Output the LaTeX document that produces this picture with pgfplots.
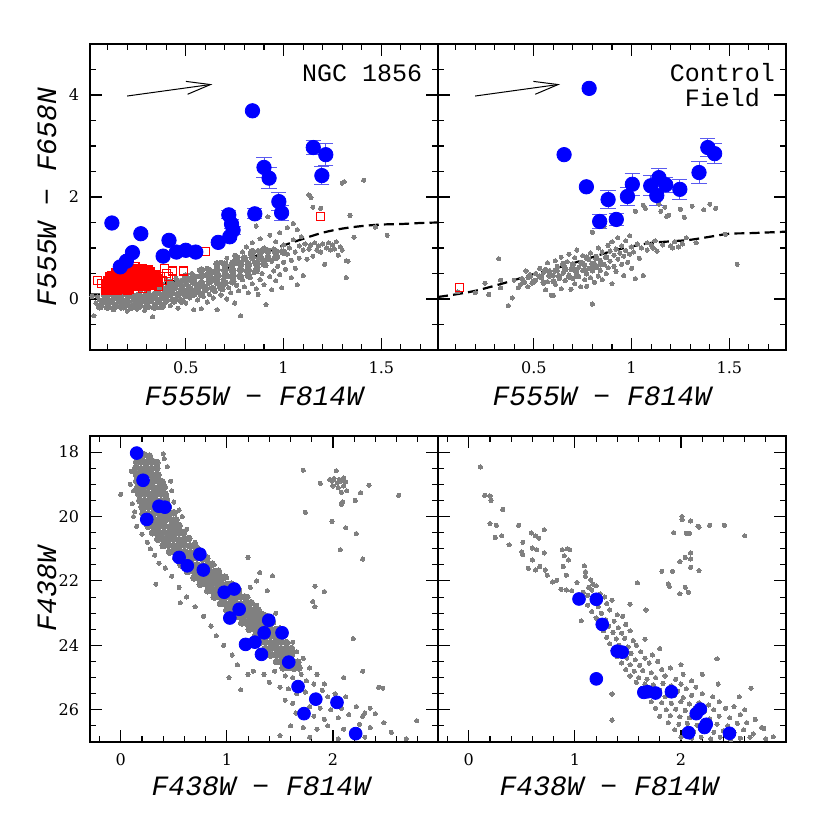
\documentclass[border=0pt]{standalone}
\usepackage{fontspec}
\setmainfont{DejaVu Serif}
\newfontfamily\mono{Liberation Mono}
\usepackage{pgfplots}
\pgfplotsset{compat=1.18}
\usetikzlibrary{arrows.meta}

\definecolor{errblue}{RGB}{90,90,240}
\definecolor{dotgray}{RGB}{128,128,128}

\pgfplotsset{
  panel/.style={
    scale only axis, width=174pt, height=153pt,
    axis line style={line width=0.7pt},
    tick align=inside,
    major tick length=5.8pt, minor tick length=3.2pt,
    every tick/.style={black, line width=0.55pt},
    tick label style={font=\fontsize{8}{8}\selectfont},
    /pgf/number format/assume math mode=true,
    xticklabel shift=2.5pt, yticklabel shift=2pt,
    label style={font=\mono\itshape\fontsize{14}{14}\selectfont},
    xlabel style={anchor=center},
    ylabel style={anchor=center},
  },
  top/.style={panel, xmin=0.01, xmax=1.79, ymin=-1, ymax=5,
    xtick={0.5,1,1.5}, minor xtick={0.1,0.2,...,1.7},
    ytick={0,2,4}, minor ytick={-0.5,0,...,4.5},
    xlabel style={at={(axis description cs:0.471,-0.150)}},
    ylabel style={at={(axis description cs:-0.1236,0.5)}}},
  bot/.style={panel, xmin=-0.29, xmax=2.99, ymin=17.5, ymax=27, y dir=reverse,
    xtick={0,1,2}, minor xtick={-0.2,0,...,2.8},
    ytick={18,20,...,26}, minor ytick={17.5,18,...,27},
    xlabel style={at={(axis description cs:0.491,-0.146)}},
    ylabel style={at={(axis description cs:-0.1236,0.5)}}},
  gdot/.style={dotgray, only marks, mark=*, mark size=1.05pt, mark options={draw=dotgray, fill=dotgray, line width=0pt}},
  gcore/.style={dotgray, only marks, mark=*, mark size=1.7pt, mark options={draw=dotgray, fill=dotgray, line width=0pt}},
  bdot/.style={blue, only marks, mark=*, mark size=3.6pt, mark options={draw=blue, fill=blue}},
  bsmall/.style={blue, only marks, mark=*, mark size=3.2pt, mark options={draw=blue, fill=blue}},
  ebar/.style={error bars/y dir=both, error bars/y explicit,
    error bars/error bar style={errblue, line width=0.5pt},
    error bars/error mark options={rotate=90, mark size=3.8pt, errblue, line width=0.5pt}},
  rsq/.style={red, only marks, mark=square, mark size=2pt, mark options={draw=red, line width=0.6pt}},
  rsqf/.style={red, only marks, mark=square*, mark size=2pt, mark options={draw=red, fill=red, line width=0.6pt}},
  dashc/.style={black, line width=1.1pt, dash pattern=on 5pt off 2.6pt, smooth},
  redv/.style={black, line width=0.5pt, -{Straight Barb[length=12pt,width=6.5pt,line width=0.5pt]}},
}

\begin{document}
\begin{tikzpicture}
\path (0,0) rectangle (415pt,-415pt);

% ---------------- NGC 1856, two-colour diagram ----------------
\begin{axis}[top, at={(45pt,-22pt)}, anchor=north west,
  xlabel={F555W − F814W}, ylabel={F555W − F658N}]
\addplot[gcore] table {
x y
0.06 -0.15
0.10 -0.16
0.14 -0.14
0.18 -0.15
0.22 -0.16
0.26 -0.14
0.30 -0.15
0.34 -0.16
0.38 -0.14
0.08 -0.03
0.12 -0.04
0.16 -0.02
0.20 -0.03
0.24 -0.04
0.28 -0.02
0.32 -0.03
0.36 -0.04
0.40 -0.02
0.44 -0.03
0.48 -0.04
0.10 0.09
0.14 0.08
0.18 0.10
0.22 0.09
0.26 0.08
0.30 0.10
0.34 0.09
0.38 0.08
0.42 0.10
0.46 0.09
0.50 0.08
0.54 0.10
0.58 0.09
0.36 0.21
0.40 0.20
0.44 0.22
0.48 0.21
0.52 0.20
0.56 0.22
0.60 0.21
0.64 0.20
0.68 0.22
0.42 0.33
0.46 0.32
0.50 0.34
0.54 0.33
0.58 0.32
0.62 0.34
0.66 0.33
0.70 0.32
0.74 0.34
0.50 0.45
0.54 0.44
0.58 0.46
0.62 0.45
0.66 0.44
0.70 0.46
0.74 0.45
0.78 0.44
0.82 0.46
0.58 0.57
0.62 0.56
0.66 0.58
0.70 0.57
0.74 0.56
0.78 0.58
0.82 0.57
0.86 0.56
0.66 0.69
0.70 0.68
0.74 0.70
0.78 0.69
0.82 0.68
0.86 0.70
0.90 0.69
0.76 0.81
0.80 0.80
0.84 0.82
0.88 0.81
0.92 0.80
0.96 0.82
0.84 0.93
0.88 0.92
0.92 0.94
0.96 0.93
1.00 0.92
};
\addplot[gdot] table {
x y
0.03 -0.33
0.02 0.05
0.04 -0.08
0.05 0.04
0.06 -0.02
0.07 -0.14
0.08 0.07
0.09 -0.07
0.10 0.02
0.11 -0.17
0.11 0.11
0.12 -0.05
0.13 0.06
0.13 -0.21
0.14 -0.12
0.15 0.00
0.15 0.14
0.16 -0.08
0.17 -0.18
0.17 0.05
0.18 -0.02
0.19 -0.13
0.19 0.10
0.20 -0.24
0.20 0.03
0.21 -0.07
0.22 0.13
0.22 -0.16
0.23 0.01
0.24 -0.10
0.24 0.07
0.25 -0.20
0.26 0.02
0.26 -0.04
0.27 0.15
0.27 -0.14
0.28 -0.01
0.29 0.08
0.29 -0.22
0.30 -0.08
0.30 0.03
0.31 0.12
0.31 -0.15
0.32 -0.03
0.33 0.06
0.33 -0.35
0.34 -0.11
0.35 0.01
0.35 0.16
0.36 -0.06
0.36 0.22
0.37 0.09
0.37 -0.17
0.38 0.30
0.38 0.02
0.39 -0.09
0.39 0.14
0.40 0.38
0.40 -0.02
0.41 0.06
0.41 0.25
0.42 -0.13
0.42 0.18
0.43 0.00
0.43 0.32
0.44 0.10
0.44 -0.06
0.45 0.41
0.45 0.21
0.46 0.04
0.46 -0.18
0.47 0.13
0.47 0.29
0.48 -0.03
0.48 0.36
0.49 0.08
0.49 0.18
0.50 0.45
0.50 -0.08
0.51 0.26
0.51 0.11
0.52 0.02
0.52 0.38
0.53 0.17
0.53 0.50
0.54 -0.21
0.54 0.07
0.55 0.30
0.55 0.21
0.56 -0.02
0.56 0.44
0.57 0.12
0.57 0.56
0.58 0.34
0.58 -0.19
0.59 0.05
0.59 0.25
0.60 0.47
0.60 0.16
0.61 0.60
0.61 -0.06
0.62 0.31
0.62 0.09
0.63 0.40
0.63 0.22
0.64 0.52
0.64 0.02
0.65 0.14
0.65 0.35
0.66 -0.21
0.66 0.64
0.67 0.27
0.67 0.47
0.68 0.08
0.68 0.72
0.69 0.38
0.69 0.18
0.70 0.58
0.70 0.30
0.71 0.00
0.71 0.80
0.72 0.45
0.72 0.22
0.73 0.66
0.73 0.12
0.74 0.36
0.74 0.53
0.75 0.86
0.75 -0.08
0.76 0.27
0.76 0.70
0.77 0.46
0.77 0.16
0.78 0.60
0.78 -0.33
0.79 0.38
0.79 0.92
0.80 0.24
0.80 0.78
0.81 0.55
0.81 1.02
0.82 0.12
0.82 0.66
0.83 0.42
0.83 0.88
0.84 0.30
0.84 1.10
0.85 0.72
0.85 0.52
0.86 0.20
0.86 1.43
0.87 0.95
0.87 0.09
0.87 0.62
0.88 0.38
0.88 1.18
0.89 0.80
0.89 0.50
0.90 0.28
0.90 1.00
0.91 -0.11
0.91 0.66
0.92 1.61
0.92 0.86
0.93 0.44
0.93 1.25
0.94 0.74
0.94 0.18
0.95 0.98
0.95 0.55
0.96 0.36
0.96 1.12
0.97 0.82
0.97 0.64
0.98 1.30
0.98 0.48
0.99 0.94
0.99 0.22
1.00 0.72
1.00 1.06
1.01 0.58
1.02 0.88
1.02 1.40
1.03 1.00
1.04 0.42
1.04 0.76
1.05 1.16
1.05 1.48
1.06 0.92
1.06 0.60
1.07 1.36
1.07 0.28
1.08 1.04
1.08 0.80
1.09 1.22
1.10 0.96
1.10 0.46
1.11 1.08
1.12 0.78
1.13 0.98
1.13 2.04
1.14 1.06
1.14 1.99
1.15 1.80
1.15 0.84
1.16 1.10
1.17 0.96
1.18 1.04
1.19 1.78
1.19 0.92
1.20 1.08
1.21 0.68
1.22 1.00
1.23 1.10
1.24 0.96
1.25 1.06
1.26 0.98
1.27 1.12
1.28 0.86
1.29 1.02
1.30 0.96
1.30 2.27
1.31 2.30
1.32 0.75
1.33 0.74
1.32 0.42
1.34 1.64
1.36 1.21
1.41 2.33
1.47 1.41
1.53 1.25
};
\addplot[rsqf] table {
x y
0.09 0.17
0.12 0.16
0.15 0.17
0.18 0.18
0.21 0.19
0.09 0.23
0.12 0.23
0.15 0.23
0.18 0.24
0.21 0.24
0.24 0.24
0.27 0.25
0.30 0.25
0.33 0.26
0.09 0.30
0.12 0.30
0.15 0.30
0.18 0.30
0.21 0.31
0.24 0.31
0.27 0.31
0.30 0.32
0.33 0.32
0.36 0.33
0.10 0.37
0.13 0.37
0.16 0.37
0.19 0.38
0.22 0.38
0.25 0.38
0.28 0.39
0.31 0.39
0.34 0.40
0.36 0.40
0.11 0.44
0.14 0.44
0.17 0.45
0.20 0.45
0.23 0.45
0.26 0.46
0.29 0.46
0.32 0.47
0.35 0.47
0.14 0.51
0.17 0.51
0.20 0.52
0.23 0.52
0.26 0.53
0.29 0.53
0.32 0.54
0.19 0.58
0.22 0.58
0.25 0.59
0.28 0.59
0.31 0.58
};
\addplot[rsq] table {
x y
0.05 0.36
0.07 0.30
0.12 0.45
0.20 0.16
0.28 0.21
0.36 0.25
0.38 0.36
0.39 0.60
0.40 0.50
0.41 0.44
0.43 0.55
0.49 0.55
0.60 0.93
0.24 0.63
0.17 0.58
1.19 1.62
};
\addplot[dashc] table {
x y
0.01 0.09
0.10 0.09
0.20 0.15
0.30 0.24
0.40 0.32
0.50 0.40
0.60 0.48
0.70 0.59
0.80 0.75
0.90 0.91
1.00 1.05
1.10 1.18
1.20 1.30
1.30 1.38
1.40 1.43
1.50 1.46
1.60 1.47
1.70 1.49
1.79 1.50
};
\addplot[bdot] table {
x y
0.122 1.49
0.270 1.28
0.227 0.91
0.196 0.74
0.165 0.63
0.414 1.15
0.384 0.84
0.452 0.92
0.500 0.955
0.551 0.92
0.666 1.11
0.725 1.22
0.841 3.69
};
\addplot[bdot, ebar] table[x=x, y=y, y error=e] {
x y e
0.720 1.65 0.08
0.734 1.47 0.08
0.742 1.35 0.08
0.853 1.67 0.10
0.900 2.58 0.20
0.926 2.37 0.20
0.976 1.91 0.18
0.990 1.69 0.15
1.152 2.97 0.13
1.216 2.83 0.22
1.196 2.42 0.18
};
\addplot[redv] coordinates {(0.20,3.98) (0.636,4.21)};
\node[font=\mono\fontsize{12.5}{12.5}\selectfont] at (rel axis cs:0.782,0.904) {NGC 1856};
\end{axis}

% ---------------- Control field, two-colour diagram ----------------
\begin{axis}[top, at={(219pt,-22pt)}, anchor=north west,
  yticklabels={}, xlabel={F555W − F814W}]
\addplot[gcore, mark size=1.35pt] table {
x y
0.45 0.33
0.50 0.34
0.55 0.32
0.60 0.35
0.48 0.45
0.53 0.44
0.58 0.46
0.63 0.45
0.68 0.44
0.72 0.46
0.56 0.57
0.61 0.56
0.66 0.58
0.71 0.57
0.76 0.56
0.80 0.58
0.65 0.69
0.70 0.68
0.75 0.70
0.80 0.69
0.84 0.68
0.77 0.81
0.82 0.80
0.87 0.82
};
\addplot[gdot] table {
x y
0.11 0.14
0.20 0.12
0.25 0.31
0.27 0.09
0.32 0.79
0.33 0.37
0.33 0.22
0.37 -0.13
0.39 0.02
0.40 0.37
0.42 0.22
0.43 0.28
0.44 0.40
0.46 0.55
0.47 0.42
0.47 0.24
0.48 0.48
0.49 0.31
0.51 0.50
0.51 0.37
0.53 0.60
0.54 0.43
0.55 0.52
0.56 0.18
0.57 0.71
0.57 0.34
0.58 0.55
0.59 0.07
0.60 0.07
0.60 0.46
0.61 0.75
0.61 0.29
0.62 0.55
0.62 0.64
0.63 0.40
0.64 0.20
0.64 0.82
0.65 0.51
0.66 0.62
0.66 0.36
0.67 0.73
0.68 0.88
0.68 0.47
0.69 0.19
0.69 0.58
0.70 0.69
0.70 0.40
0.71 0.30
0.71 0.81
0.72 0.96
0.72 0.52
0.73 0.62
0.73 0.44
0.74 0.72
0.74 0.24
0.75 0.56
0.75 0.85
0.76 0.38
0.76 0.66
0.77 0.49
0.77 0.25
0.78 0.78
0.78 0.60
0.79 0.42
0.79 0.90
0.80 1.31
0.80 -0.10
0.80 0.55
0.81 0.70
0.81 0.33
0.82 0.84
0.82 0.62
0.83 0.45
0.83 1.00
0.84 0.76
0.84 0.56
0.85 0.92
0.85 0.38
0.86 1.43
0.86 0.68
0.87 0.82
0.87 0.50
0.88 1.05
0.88 0.61
0.89 0.94
0.89 0.74
0.90 0.30
0.90 1.12
0.91 0.86
0.91 0.64
0.92 0.98
0.92 0.54
0.93 0.78
0.93 1.20
0.94 0.90
0.95 0.68
0.95 1.04
0.96 0.84
0.96 0.46
0.97 1.14
0.97 0.95
0.98 0.72
0.99 1.24
0.99 0.88
1.00 1.02
1.00 0.60
1.01 0.92
1.02 1.72
1.02 0.40
1.03 1.08
1.04 0.80
1.05 1.00
1.06 1.84
1.06 0.46
1.07 1.78
1.08 1.10
1.08 0.96
1.10 1.06
1.11 1.00
1.12 1.14
1.13 0.94
1.14 1.86
1.15 1.72
1.16 1.06
1.17 1.80
1.18 1.62
1.19 1.64
1.20 1.04
1.21 1.00
1.22 1.12
1.24 1.02
1.25 1.76
1.26 1.08
1.27 1.60
1.28 1.20
1.31 1.82
1.33 1.10
1.37 1.75
1.40 1.86
1.43 1.78
1.48 1.27
1.54 0.68
};
\addplot[dashc] table {
x y
0.01 0.04
0.10 0.09
0.20 0.16
0.30 0.26
0.40 0.37
0.50 0.49
0.60 0.59
0.70 0.70
0.80 0.82
0.90 0.94
1.00 1.03
1.10 1.10
1.20 1.13
1.30 1.16
1.40 1.22
1.50 1.28
1.60 1.29
1.79 1.32
};
\addplot[rsq] table {
x y
0.12 0.22
};
\addplot[bdot] table {
x y
0.783 4.13
0.655 2.83
0.769 2.20
};
\addplot[bdot, ebar] table[x=x, y=y, y error=e] {
x y e
0.880 1.95 0.18
0.837 1.52 0.13
0.922 1.56 0.12
0.979 2.01 0.18
1.004 2.25 0.22
1.098 2.22 0.20
1.129 2.03 0.20
1.140 2.38 0.17
1.175 2.24 0.15
1.247 2.15 0.19
1.345 2.48 0.21
1.390 2.97 0.17
1.425 2.85 0.20
};
\addplot[redv] coordinates {(0.20,3.98) (0.634,4.21)};
\node[font=\mono\fontsize{12.5}{12.5}\selectfont, align=center] at (rel axis cs:0.817,0.867) {Control\\Field};
\end{axis}

% ---------------- NGC 1856, colour-magnitude diagram ----------------
\begin{axis}[bot, at={(45pt,-218pt)}, anchor=north west,
  xlabel={F438W − F814W}, ylabel={F438W}]
\addplot[gcore] table {
x y
0.17 18.10
0.22 18.08
0.27 18.12
0.15 18.30
0.20 18.28
0.25 18.31
0.30 18.29
0.34 18.32
0.14 18.50
0.19 18.52
0.24 18.49
0.29 18.51
0.34 18.50
0.15 18.70
0.20 18.71
0.25 18.69
0.30 18.72
0.35 18.70
0.15 18.90
0.20 18.88
0.25 18.91
0.30 18.90
0.35 18.89
0.39 18.92
0.16 19.10
0.21 19.11
0.26 19.09
0.31 19.10
0.36 19.12
0.41 19.09
0.17 19.30
0.22 19.29
0.27 19.31
0.32 19.30
0.37 19.28
0.42 19.31
0.18 19.50
0.23 19.52
0.28 19.49
0.33 19.50
0.38 19.51
0.43 19.48
0.20 19.70
0.25 19.69
0.30 19.71
0.35 19.70
0.40 19.72
0.45 19.69
0.21 19.90
0.26 19.91
0.31 19.89
0.36 19.90
0.41 19.92
0.46 19.90
0.50 19.88
0.23 20.10
0.28 20.09
0.33 20.11
0.38 20.10
0.43 20.08
0.48 20.11
0.52 20.10
0.26 20.30
0.31 20.31
0.36 20.29
0.41 20.30
0.46 20.32
0.51 20.30
0.55 20.28
0.30 20.50
0.35 20.49
0.40 20.51
0.45 20.50
0.50 20.52
0.55 20.49
0.59 20.50
0.35 20.70
0.40 20.71
0.45 20.69
0.50 20.70
0.55 20.72
0.60 20.70
0.64 20.68
0.40 20.90
0.45 20.89
0.50 20.91
0.55 20.90
0.60 20.88
0.65 20.91
0.70 20.90
0.46 21.10
0.51 21.11
0.56 21.09
0.61 21.10
0.66 21.12
0.71 21.10
0.75 21.08
0.52 21.30
0.57 21.29
0.62 21.31
0.67 21.30
0.72 21.28
0.77 21.31
0.81 21.30
0.57 21.50
0.62 21.51
0.67 21.49
0.72 21.50
0.77 21.52
0.82 21.50
0.86 21.48
0.63 21.70
0.68 21.69
0.73 21.71
0.78 21.70
0.83 21.68
0.88 21.71
0.92 21.70
0.69 21.90
0.74 21.91
0.79 21.89
0.84 21.90
0.89 21.92
0.94 21.90
0.98 21.88
0.75 22.10
0.80 22.09
0.85 22.11
0.90 22.10
0.95 22.08
1.00 22.11
1.04 22.10
0.82 22.30
0.87 22.31
0.92 22.29
0.97 22.30
1.02 22.32
1.07 22.30
1.11 22.28
0.88 22.50
0.93 22.49
0.98 22.51
1.03 22.50
1.08 22.52
1.13 22.49
1.17 22.50
0.94 22.70
0.99 22.71
1.04 22.69
1.09 22.70
1.14 22.72
1.19 22.70
1.23 22.68
1.00 22.90
1.05 22.89
1.10 22.91
1.15 22.90
1.20 22.88
1.25 22.91
1.29 22.90
1.07 23.10
1.12 23.11
1.17 23.09
1.22 23.10
1.27 23.12
1.32 23.10
1.36 23.08
1.14 23.30
1.19 23.31
1.24 23.29
1.29 23.30
1.34 23.32
1.39 23.30
1.43 23.28
1.21 23.50
1.26 23.49
1.31 23.51
1.36 23.50
1.41 23.48
1.46 23.51
1.50 23.50
1.27 23.70
1.32 23.71
1.37 23.69
1.42 23.70
1.47 23.72
1.52 23.70
1.31 23.90
1.36 23.89
1.41 23.91
1.46 23.90
1.51 23.88
1.56 23.91
1.36 24.10
1.41 24.11
1.46 24.09
1.51 24.10
1.56 24.12
1.61 24.10
1.41 24.30
1.46 24.29
1.51 24.31
1.56 24.30
1.61 24.28
1.47 24.50
1.52 24.51
1.57 24.49
1.62 24.50
1.67 24.52
1.53 24.70
1.58 24.69
1.63 24.71
1.68 24.70
};
\addplot[gdot] table {
x y
0.00 19.31
0.10 18.60
0.09 19.00
0.12 19.20
0.11 19.60
0.13 19.85
0.41 18.20
0.44 18.45
0.40 18.05
0.47 18.90
0.48 19.20
0.50 19.55
0.55 19.80
0.12 20.00
0.15 20.30
0.20 20.55
0.25 20.80
0.33 22.10
0.28 21.00
0.32 21.20
0.36 21.45
0.42 21.60
0.48 21.85
0.55 22.20
0.56 22.68
0.62 22.50
0.70 22.80
0.78 23.10
0.85 23.40
0.90 23.70
0.97 24.00
1.05 24.30
1.10 24.60
1.13 25.38
1.02 25.00
1.20 24.90
0.58 20.00
0.62 20.40
0.70 20.80
0.74 21.00
0.82 21.25
0.88 21.50
0.93 21.75
1.00 21.90
1.06 22.10
1.12 22.30
1.20 22.50
1.22 22.20
1.28 22.75
1.33 23.00
1.40 23.20
1.46 23.00
1.50 23.45
1.55 23.70
1.62 23.90
1.66 24.20
1.72 24.40
1.78 24.70
1.85 24.90
1.92 25.20
1.20 21.27
1.31 21.74
1.43 21.84
1.28 22.00
1.38 22.30
1.25 24.80
1.35 24.90
1.45 24.80
1.55 24.95
1.62 25.00
1.70 24.90
1.75 25.10
1.82 25.20
1.40 25.15
1.50 25.30
1.58 25.35
1.66 25.50
1.74 25.45
1.90 25.40
1.95 25.60
2.02 25.50
1.55 25.70
1.62 25.80
1.78 25.90
1.88 25.95
1.98 26.00
2.08 25.95
2.12 25.60
2.22 25.90
1.65 26.10
1.82 26.20
1.92 26.30
2.05 26.25
2.15 26.15
2.28 26.20
2.35 25.95
1.60 26.50
1.72 26.55
1.85 26.60
1.95 26.50
2.10 26.60
2.25 26.45
2.35 26.55
2.48 26.40
2.55 26.70
1.50 26.80
1.78 26.85
2.05 26.90
2.30 26.85
2.69 26.90
2.79 26.34
2.10 25.00
2.28 24.80
2.43 25.30
2.47 25.33
2.30 26.10
2.40 26.12
1.72 18.56
2.03 18.58
1.88 18.97
1.97 18.85
1.99 18.90
2.01 18.82
2.04 18.95
2.06 18.85
2.08 18.90
2.10 18.80
2.12 18.92
2.00 19.05
2.05 19.10
2.10 19.05
2.13 19.20
2.08 19.25
2.26 19.26
2.34 19.03
2.62 19.34
2.21 19.50
2.09 19.55
2.08 19.62
1.74 19.87
1.99 20.15
2.12 20.35
2.22 20.53
2.07 21.03
2.28 21.32
1.83 22.16
1.92 22.33
1.81 22.64
1.83 22.80
2.19 23.79
};
\addplot[bsmall] table {
x y
0.150 18.03
0.210 18.875
0.360 19.68
0.416 19.71
0.245 20.09
0.550 21.27
0.627 21.53
0.746 21.17
0.778 21.66
0.975 22.35
1.069 22.25
1.116 22.88
1.028 23.15
1.395 23.22
1.351 23.61
1.520 23.61
1.176 23.97
1.264 23.90
1.326 24.28
1.583 24.52
1.671 25.28
1.838 25.67
2.038 25.77
1.727 26.12
2.214 26.74
};
\end{axis}

% ---------------- Control field, colour-magnitude diagram ----------------
\begin{axis}[bot, at={(219pt,-218pt)}, anchor=north west,
  yticklabels={}, xlabel={F438W − F814W}]
\addplot[gdot] table {
x y
0.11 18.46
0.15 19.34
0.20 19.36
0.21 19.50
0.32 19.78
0.20 20.22
0.26 20.27
0.47 20.27
0.25 20.65
0.31 20.60
0.38 20.88
0.51 20.80
0.50 21.10
0.51 21.19
0.59 20.51
0.63 20.60
0.66 20.67
0.71 20.41
0.60 20.98
0.64 21.03
0.71 21.13
0.56 21.61
0.60 21.35
0.63 21.66
0.67 21.55
0.72 21.66
0.74 21.82
0.79 22.03
0.83 21.98
0.88 21.03
0.90 21.22
0.93 21.00
0.95 21.03
0.89 21.55
0.92 21.82
0.94 21.35
0.87 22.26
0.92 22.28
0.97 22.30
1.06 23.24
1.09 21.53
1.10 21.71
1.10 21.86
1.15 21.97
1.13 22.20
1.17 22.10
1.16 22.28
1.12 22.45
2.01 20.00
2.09 20.14
2.01 20.10
2.16 20.30
2.17 20.33
2.27 20.27
2.41 20.27
2.60 20.60
1.93 20.50
2.05 20.52
2.08 20.52
2.09 21.13
2.04 21.27
2.09 21.32
2.09 21.58
2.17 21.68
1.99 21.40
1.92 21.70
1.88 22.09
1.89 22.17
1.99 22.40
2.04 22.20
2.07 22.35
1.82 21.70
1.59 22.06
1.52 22.72
1.67 22.90
1.66 23.81
2.34 24.42
2.66 25.33
1.35 25.51
1.35 26.32
2.78 26.58
2.87 26.84
1.02 22.05
1.08 22.35
1.20 22.15
1.24 22.40
1.05 22.55
1.18 22.60
1.28 22.50
1.12 22.75
1.22 22.80
1.30 22.70
1.35 22.60
1.16 22.95
1.25 23.00
1.33 22.90
1.40 23.05
1.20 23.15
1.29 23.20
1.37 23.25
1.45 23.10
1.24 23.35
1.32 23.40
1.41 23.45
1.48 23.35
1.27 23.55
1.36 23.60
1.44 23.62
1.52 23.55
1.30 23.75
1.39 23.80
1.47 23.78
1.55 23.85
1.33 23.95
1.42 24.00
1.50 24.05
1.58 24.00
1.36 24.15
1.45 24.20
1.53 24.25
1.62 24.20
1.40 24.35
1.49 24.40
1.57 24.45
1.66 24.40
1.73 24.30
1.44 24.55
1.52 24.60
1.61 24.62
1.70 24.55
1.78 24.50
1.48 24.75
1.56 24.80
1.64 24.78
1.72 24.85
1.82 24.75
1.90 24.70
1.52 24.95
1.60 25.00
1.68 25.05
1.76 25.00
1.85 24.95
1.95 25.05
2.02 24.90
1.58 25.15
1.66 25.20
1.74 25.22
1.83 25.18
1.91 25.25
2.00 25.20
2.10 25.10
1.62 25.35
1.71 25.38
1.80 25.40
1.88 25.35
1.97 25.42
2.05 25.35
2.14 25.30
1.68 25.55
1.77 25.58
1.85 25.60
1.94 25.55
2.02 25.62
2.10 25.55
2.20 25.50
2.30 25.60
1.72 25.75
1.82 25.78
1.91 25.80
2.00 25.75
2.08 25.82
2.17 25.78
2.26 25.85
2.36 25.75
1.76 25.95
1.86 26.00
1.95 25.98
2.04 26.02
2.13 25.95
2.22 26.05
2.31 26.00
2.42 25.95
2.50 25.90
1.80 26.20
1.90 26.18
1.99 26.22
2.08 26.25
2.17 26.20
2.27 26.28
2.36 26.20
2.46 26.25
2.56 26.15
1.88 26.40
1.98 26.45
2.06 26.42
2.15 26.48
2.25 26.40
2.34 26.45
2.44 26.50
2.53 26.42
2.62 26.40
2.70 26.30
1.94 26.62
2.03 26.65
2.12 26.68
2.22 26.62
2.31 26.70
2.40 26.65
2.50 26.70
2.59 26.62
2.68 26.75
2.76 26.55
2.00 26.85
2.10 26.88
2.19 26.85
2.28 26.90
2.37 26.85
2.47 26.92
2.56 26.88
2.65 26.85
2.80 26.90
1.80 24.10
2.00 24.60
2.20 24.90
2.35 25.20
2.55 25.60
2.60 26.00
};
\addplot[bsmall] table {
x y
1.039 22.56
1.202 22.57
1.258 23.35
1.399 24.18
1.446 24.21
1.202 25.04
1.650 25.46
1.687 25.44
1.760 25.48
1.910 25.44
2.182 25.98
2.144 26.12
2.238 26.45
2.222 26.55
2.072 26.71
2.457 26.73
};
\end{axis}
\end{tikzpicture}
\end{document}
